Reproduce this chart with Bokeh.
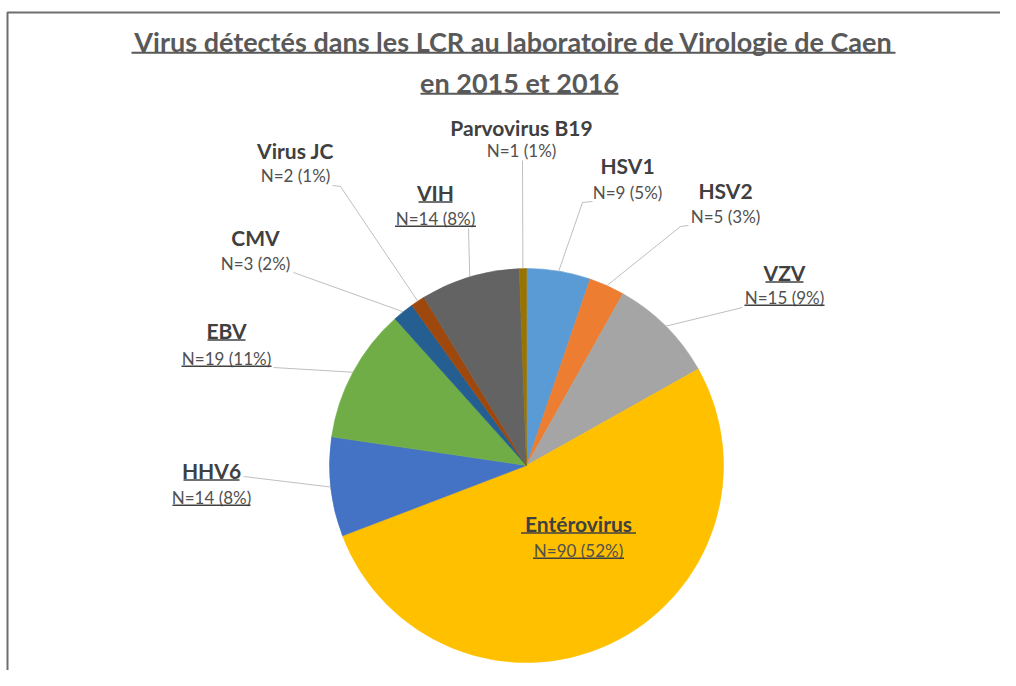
import math
from bokeh.plotting import figure
from bokeh.models import ColumnDataSource
from bokeh.core.properties import value
from bokeh.embed import file_html
from bokeh.resources import INLINE

# ---------------- data ----------------
viruses = ["HSV1", "HSV2", "VZV", "Entérovirus", "HHV6", "EBV", "CMV",
           "Virus JC", "VIH", "Parvovirus B19"]
counts = [9, 5, 15, 90, 14, 19, 3, 2, 14, 1]
colors = ["#5B9BD5", "#ED7D31", "#A5A5A5", "#FFC000", "#4472C4", "#70AD47",
          "#255E91", "#9E480E", "#636363", "#997300"]
underlined = [False, False, True, True, True, True, False, False, True, False]
title_lines = ["Virus détectés dans les LCR au laboratoire de Virologie de Caen",
               "en 2015 et 2016"]

# ---------------- layout (page pixels) ----------------
W, H = 1000, 670
def px(X): return X
def py(Y): return H - Y

CX, CY, R = 526, 465, 197
# label centre x, name centre y, value centre y, name width, value width
lab_x = [627, 725, 784, 578, 211, 226, 255, 295, 435, 521]
name_c = [165, 190, 272, 523, 470, 330, 237, 150, 192, 127]
val_c = [192, 216, 297, 550, 497, 358, 263, 175, 218, 150]
name_w = [51, 50, 38, 115, 56, 38, 40, 76, 34, 145]
val_w = [71, 70, 80, 91, 78, 90, 71, 72, 81, 72]
# leader start (page coords) and optional elbow; None for label inside slice
lead_start = [(592, 201), (688, 225), (742, 307), None, (243, 476), (273, 367),
              (293, 272), (332, 185), (468, 228), (522, 160)]
lead_elbow = [(582, 202), (680, 226), None, None, None, None,
              None, (340, 186), None, None]

total = sum(counts)
pcts = [round(100 * c / total) for c in counts]
val_labels = [f"N={c} ({p}%)" for c, p in zip(counts, pcts)]

starts, ends, mids = [], [], []
cum = 0
for c in counts:
    a0 = math.pi / 2 - 2 * math.pi * (cum + c) / total
    a1 = math.pi / 2 - 2 * math.pi * cum / total
    starts.append(a0)
    ends.append(a1)
    mids.append((a0 + a1) / 2)
    cum += c

p = figure(width=W, height=H, x_range=(0, W), y_range=(0, H),
           output_backend="svg", toolbar_location=None, min_border=0,
           x_axis_location=None, y_axis_location=None)
p.grid.visible = False
p.outline_line_color = None
p.background_fill_color = "white"
p.border_fill_color = "white"

# frame (left and top border of the original picture)
p.line(x=[px(7), px(7), W], y=[0, py(12), py(12)], line_color="#6E6E6E",
       line_width=2)

src = ColumnDataSource(dict(start=starts, end=ends, color=colors))
p.wedge(x=px(CX), y=py(CY), radius=R, start_angle="start", end_angle="end",
        fill_color="color", line_color="color", line_width=0.6, source=src)

# leader lines
lx, ly = [], []
for i in range(len(counts)):
    if lead_start[i] is None:
        continue
    ex = CX + R * math.cos(mids[i])
    ey = CY - R * math.sin(mids[i])
    pts = [lead_start[i]]
    if lead_elbow[i] is not None:
        pts.append(lead_elbow[i])
    pts.append((ex, ey))
    lx.append([px(a) for a, b in pts])
    ly.append([py(b) for a, b in pts])
p.multi_line(xs=lx, ys=ly, line_color="#BFBFBF", line_width=1)

FONT = "Lato"
NAME_PX = 21
VAL_PX = 17

p.text(x=[px(x) for x in lab_x], y=[py(y) for y in name_c], text=viruses,
       text_font=value(FONT), text_font_size=f"{NAME_PX}px", text_font_style="bold",
       text_color="#404040", text_align="center", text_baseline="middle")
p.text(x=[px(x) for x in lab_x], y=[py(y) for y in val_c], text=val_labels,
       text_font=value(FONT), text_font_size=f"{VAL_PX}px",
       text_color="#505050", text_align="center", text_baseline="middle")

# underlines for highlighted labels
ux, uy = [], []
for i in range(len(counts)):
    if not underlined[i]:
        continue
    for c, w, off in ((name_c[i], name_w[i], 0.45 * NAME_PX),
                      (val_c[i], val_w[i], 0.45 * VAL_PX)):
        ux.append([px(lab_x[i] - w / 2), px(lab_x[i] + w / 2)])
        uy.append([py(c + off), py(c + off)])
p.multi_line(xs=ux, ys=uy, line_color="#404040", line_width=1.5)

# title
TITLE_PX = 27
t_x = [513, 519]
t_c = [41, 82]
t_w = [764, 198]
p.text(x=[px(x) for x in t_x], y=[py(y) for y in t_c], text=title_lines,
       text_font=value(FONT), text_font_size=f"{TITLE_PX}px", text_font_style="bold",
       text_color="#595959", text_align="center", text_baseline="middle")
p.multi_line(xs=[[px(x - w / 2), px(x + w / 2)] for x, w in zip(t_x, t_w)],
             ys=[[py(y + 0.42 * TITLE_PX), py(y + 0.42 * TITLE_PX)] for y in t_c],
             line_color="#595959", line_width=2)

open("out.html", "w").write(file_html(p, INLINE))
